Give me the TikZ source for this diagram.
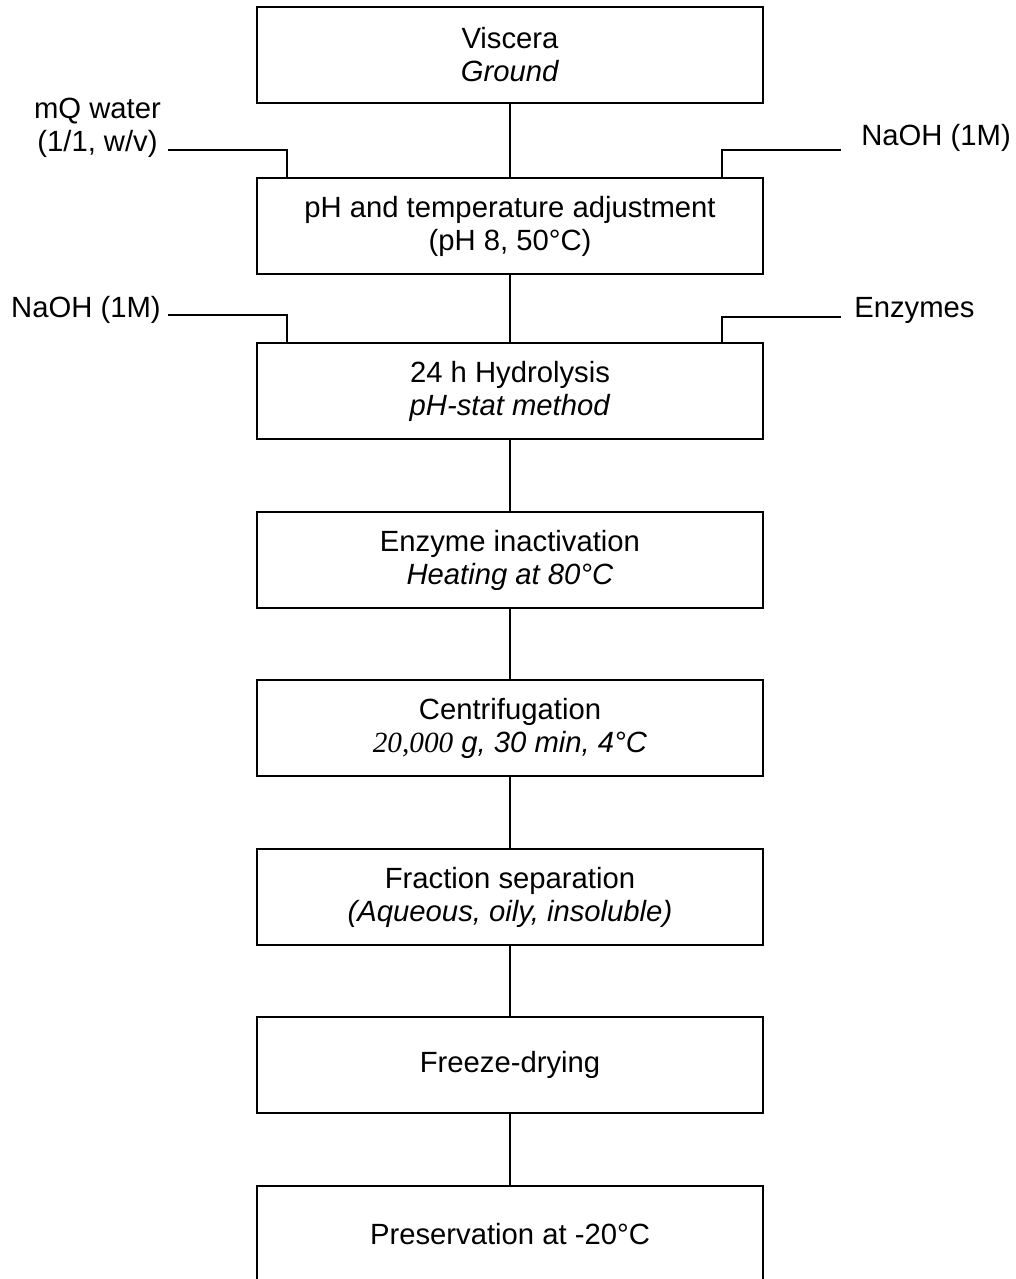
\documentclass[tikz,border=0pt]{standalone}
\usepackage{fontspec}
\setmainfont{Liberation Sans}
\newfontfamily\timesfont{Liberation Serif}
\usetikzlibrary{positioning}

\begin{document}
\begin{tikzpicture}[x=0.025cm, y=-0.025cm,
    stage/.style={draw, line width=1.4pt, minimum width=12.65cm, minimum height=2.4cm, inner sep=0pt, align=center, font=\fontsize{20.8}{23.5}\selectfont},
    feed/.style={inner sep=0pt, align=center, font=\fontsize{20.8}{23.5}\selectfont},
    link/.style={line width=1.4pt}]
                        \useasboundingbox (0, 0) rectangle (1016, 1279);
                        \node[stage] (visc) at (510, 55) {Viscera\\\textit{Ground}};
                        \node[stage] (adjust) at (510, 226) {pH and temperature adjustment\\(pH 8, 50°C)};
                        \node[stage] (hydro) at (510, 391) {24 h Hydrolysis\\\textit{pH-stat method}};
                        \node[stage] (inact) at (510, 560) {Enzyme inactivation\\\textit{Heating at 80°C}};
                        \node[stage] (centri) at (510, 728) {Centrifugation\\{\timesfont\itshape 20,000} \textit{g, 30 min, 4°C}};
                        \node[stage] (fract) at (510, 897) {Fraction separation\\\textit{(Aqueous, oily, insoluble)}};
                        \node[stage] (freeze) at (510, 1065) {Freeze-drying};
                        \node[stage] (store) at (510, 1234) {Preservation at -20°C};
                        \node[feed] (water) at (97.5, 128) {mQ water\\(1/1, w/v)};
                        \node[feed, anchor=west] (naohA) at (861, 138) {NaOH (1M)};
                        \node[feed, anchor=east] (naohB) at (161, 310) {NaOH (1M)};
                        \node[feed, anchor=west] (enz) at (854, 310) {Enzymes};
                        \coordinate (waterend) at (168, 150);
                        \coordinate (naohAend) at (841, 150);
                        \coordinate (naohBend) at (168, 315);
                        \coordinate (enzend) at (841, 317);
                        \foreach \a/\b in {visc/adjust, adjust/hydro, hydro/inact, inact/centri, centri/fract, fract/freeze, freeze/store}
                            \draw[link] (\a) -- (\b);
                        \draw[link]
                        (waterend) -| ([xshift=0.78cm]adjust.north west)
                        ([xshift=-1.05cm]adjust.north east) |- (naohAend)
                        (naohBend) -| ([xshift=0.78cm]hydro.north west)
                        ([xshift=-1.05cm]hydro.north east) |- (enzend);
                    \end{tikzpicture}
\end{document}
